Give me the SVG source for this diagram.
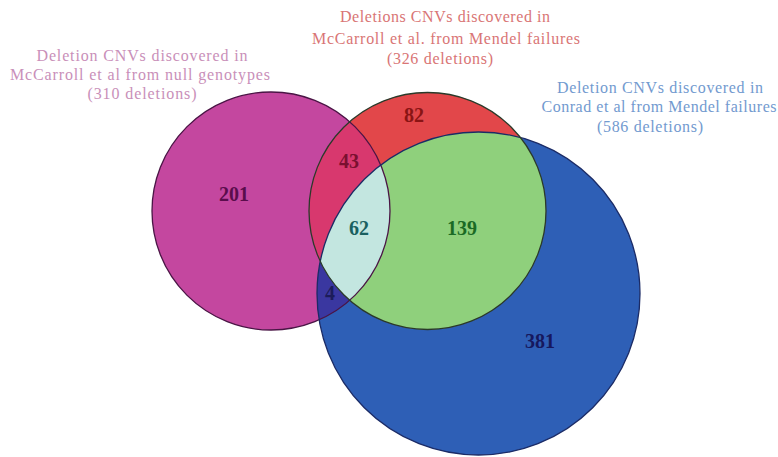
<svg xmlns="http://www.w3.org/2000/svg" width="778" height="457" viewBox="0 0 778 457">
  <style>
    .lbl { font-family: "Liberation Serif", "Times New Roman", serif; font-size: 16px; text-anchor: middle; }
    .num { font-family: "Liberation Serif", "Times New Roman", serif; font-size: 20px; font-weight: bold; text-anchor: middle; }
    .edge { fill: none; stroke-width: 1.3; }
  </style>
  <defs>
    <clipPath id="clipM"><circle cx="271" cy="211" r="119"/></clipPath>
    <clipPath id="clipB"><circle cx="478.5" cy="293.5" r="161.5"/></clipPath>
    <clipPath id="clipR"><circle cx="427.5" cy="211" r="118.5"/></clipPath>
  </defs>
  <rect width="778" height="457" fill="#ffffff"/>

  <g id="sets">
    <circle id="setMagenta" cx="271" cy="211" r="119" fill="#c4479f"/>
    <circle id="setBlue" cx="478.5" cy="293.5" r="161.5" fill="#2e5fb6"/>
    <circle id="setRed" cx="427.5" cy="211" r="118.5" fill="#e2474a"/>
    <g clip-path="url(#clipM)">
      <circle cx="478.5" cy="293.5" r="161.5" fill="#3a37a0"/>
      <circle cx="427.5" cy="211" r="118.5" fill="#d8386e"/>
    </g>
    <g clip-path="url(#clipB)">
      <circle cx="427.5" cy="211" r="118.5" fill="#8fd07c"/>
    </g>
    <g clip-path="url(#clipB)">
      <g clip-path="url(#clipM)">
        <circle cx="427.5" cy="211" r="118.5" fill="#c3e6e0"/>
      </g>
    </g>
    <circle class="edge" cx="271" cy="211" r="119" stroke="#4a1545"/>
    <circle class="edge" cx="478.5" cy="293.5" r="161.5" stroke="#1b2b66"/>
    <circle class="edge" cx="427.5" cy="211" r="118.5" stroke="#2a3a2a"/>
  </g>

  <g id="counts">
    <text class="num" x="234" y="201" fill="#5a0d4c">201</text>
    <text class="num" x="349" y="168" fill="#7a1030">43</text>
    <text class="num" x="414" y="122" fill="#8a1414">82</text>
    <text class="num" x="359" y="235" fill="#1a6060">62</text>
    <text class="num" x="462" y="235" fill="#1a6a24">139</text>
    <text class="num" x="330" y="300" fill="#1c1c5a">4</text>
    <text class="num" x="540" y="348" fill="#16185e">381</text>
  </g>

  <g id="labelMagenta" fill="#c98fb9">
    <text class="lbl" x="142" y="61" textLength="211" lengthAdjust="spacing">Deletion CNVs discovered in</text>
    <text class="lbl" x="140" y="80" textLength="260" lengthAdjust="spacing">McCarroll et al  from null genotypes</text>
    <text class="lbl" x="142" y="99" textLength="109" lengthAdjust="spacing">(310 deletions)</text>
  </g>
  <g id="labelRed" fill="#d97575">
    <text class="lbl" x="445" y="22" textLength="210" lengthAdjust="spacing">Deletions CNVs discovered in</text>
    <text class="lbl" x="446" y="44" textLength="268" lengthAdjust="spacing">McCarroll et al. from Mendel failures</text>
    <text class="lbl" x="440" y="64" textLength="106" lengthAdjust="spacing">(326 deletions)</text>
  </g>
  <g id="labelBlue" fill="#729acf">
    <text class="lbl" x="660" y="93" textLength="206" lengthAdjust="spacing">Deletion CNVs discovered in</text>
    <text class="lbl" x="659" y="112" textLength="235" lengthAdjust="spacing">Conrad et al  from Mendel failures</text>
    <text class="lbl" x="650" y="132" textLength="106" lengthAdjust="spacing">(586 deletions)</text>
  </g>
</svg>
